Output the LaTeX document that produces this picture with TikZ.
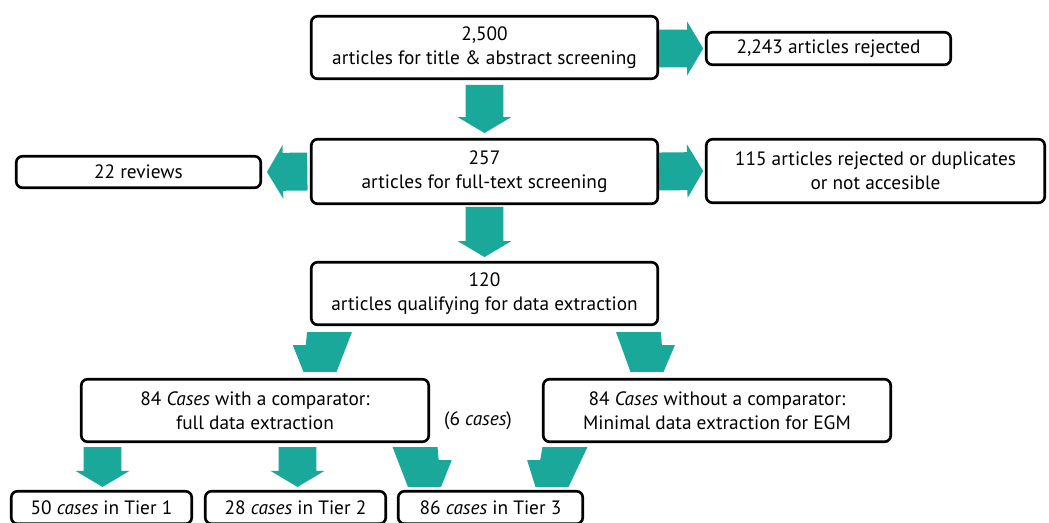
\documentclass[tikz,border=0pt]{standalone}
\usepackage{fontspec}
\setmainfont{PT Sans}
\usepackage{tikz}
\usetikzlibrary{calc,positioning}
\definecolor{flowteal}{RGB}{25,168,153}
\newcommand\arrshaft{10.8pt}
\newcommand\arrhead{15.3pt}
\newcommand\arrlen{9.1pt}
\newcommand\slanttop{12.8pt}
\newcommand\slantbot{9.4pt}
\newcommand\slantwing{7.4pt}
\newcommand\slantpos{0.33}

\begin{document}
\begin{tikzpicture}[x=0.02cm, y=-0.02cm,
      box/.style={draw=black, line width=1.5pt, rounded corners=3.5pt, fill=white, align=center, inner sep=0pt, font=\fontsize{11}{13.6}\selectfont},
      note/.style={font=\fontsize{11}{13.6}\selectfont},
      fatarrow/.style={fill=flowteal, to path={let \p1=(\tikztostart), \p2=(\tikztotarget), \p3=($(\p2)!\arrlen!(\p1)$) in
        ($(\p1)!\arrshaft!90:(\p2)$) -- ($(\p3)!\arrshaft!-90:(\p1)$) -- ($(\p3)!\arrhead!-90:(\p1)$) -- (\p2)
        -- ($(\p3)!\arrhead!90:(\p1)$) -- ($(\p3)!\arrshaft!90:(\p1)$) -- ($(\p1)!\arrshaft!-90:(\p2)$) -- cycle}},
      slantarrow/.style={fill=flowteal, to path={let \p1=(\tikztostart), \p2=(\tikztotarget),
        \n1={ifthenelse(\x2<\x1,\slantwing,0pt)}, \n2={ifthenelse(\x2>\x1,\slantwing,0pt)},
        \n3={\x1-\slanttop+(\x2-\slantbot-\x1+\slanttop)*\slantpos},
        \n4={\x1+\slanttop+(\x2+\slantbot-\x1-\slanttop)*\slantpos},
        \n5={\y1+(\y2-\y1)*\slantpos} in
        (\x1-\slanttop,\y1) -- (\x1+\slanttop,\y1) -- (\n4,\n5) -- ({\n4+\n2},\n5)
        -- (\x2+\slantbot,\y2) -- (\x2-\slantbot,\y2) -- ({\n3-\n1},\n5) -- (\n3,\n5) -- cycle}}]
      \useasboundingbox (0,0) rectangle (1049,522);
      \node (top) at (484.5,47.5) [box, minimum width=6.93cm, minimum height=1.25cm] {2,500\\articles for title \& abstract screening};
      \node (rej1) at (828.5,48.5) [box, minimum width=4.89cm, minimum height=0.65cm] {2,243 articles rejected};
      \node (ft) at (484.5,171.5) [box, minimum width=6.93cm, minimum height=1.29cm] {257\\articles for full-text screening};
      \node (reviews) at (138.5,172) [box, minimum width=4.89cm, minimum height=0.63cm] {22 reviews};
      \node (rej2) at (875.5,171) [box, minimum width=6.77cm, minimum height=1.27cm] {115 articles rejected or duplicates\\or not accesible};
      \node (qual) at (484.5,293.5) [box, minimum width=6.93cm, minimum height=1.25cm] {120\\articles qualifying for data extraction};
      \node (comp) at (255,410.5) [box, minimum width=6.95cm, minimum height=1.25cm] {84 \textit{Cases} with a comparator:\\full data extraction};
      \node (nocomp) at (717,410.5) [box, minimum width=6.95cm, minimum height=1.25cm] {84 \textit{Cases} without a comparator:\\Minimal data extraction for EGM};
      \node (six) at (478,421) [note] {(6 \textit{cases})};
      \node (t1) at (101.5,507.5) [box, minimum width=3.61cm, minimum height=0.65cm] {50 \textit{cases} in Tier 1};
      \node (t2) at (295.5,507.5) [box, minimum width=3.61cm, minimum height=0.65cm] {28 \textit{cases} in Tier 2};
      \node (t3) at (490.5,507.5) [box, minimum width=3.69cm, minimum height=0.65cm] {86 \textit{cases} in Tier 3};
      % screening steps
      \fill[fatarrow] (top.east |- rej1.west) to ([xshift=-1pt]rej1.west);
      \fill[fatarrow] ([yshift=-2.8pt]top.south) to ([yshift=2.8pt]ft.north);
      \fill[fatarrow] ([xshift=-1.5pt]ft.west) to ([xshift=2.8pt]reviews.east);
      \fill[fatarrow] (ft.east) to ([xshift=-1pt]rej2.west);
      \fill[fatarrow] ([yshift=-1pt]ft.south) to ([yshift=2.2pt]qual.north);
      % split into cases
      \fill[slantarrow] ($(qual.south west)+(19.5,6)$) to ($(comp.north)+(65,-6)$);
      \fill[slantarrow] ($(qual.south east)+(-20.5,6)$) to ($(nocomp.north)+(-70,-6)$);
      % tiers
      \fill[fatarrow] ($(t1.north |- comp.south)+(1,4)$) to ($(t1.north)+(1,-3)$);
      \fill[fatarrow] ($(t2.north |- comp.south)+(2,4)$) to ($(t2.north)+(2,-3)$);
      \fill[slantarrow] ($(comp.south east)+(-15,4)$) to ($(t3.north)+(-66,-3)$);
      \fill[slantarrow] ($(nocomp.south west)+(23,4)$) to ($(t3.north)+(61.5,-3)$);
  \end{tikzpicture}
\end{document}
